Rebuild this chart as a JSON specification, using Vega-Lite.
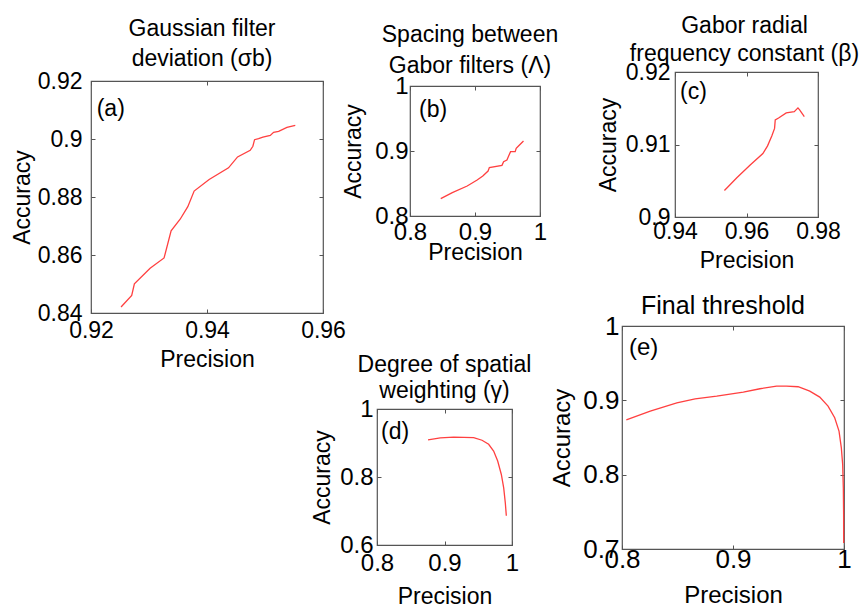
{
  "$schema": "https://vega.github.io/schema/vega-lite/v6.json",
  "background": "white",
  "padding": {"left": 10, "top": 14, "right": 0, "bottom": 0},
  "autosize": {"type": "pad"},
  "config": {
    "font": "Liberation Sans",
    "view": {"stroke": "#555", "strokeWidth": 1.2},
    "axis": {"grid": false, "ticks": true, "tickSize": -4, "tickColor": "#555", "tickWidth": 1, "domain": false, "labelFontSize": 23, "titleFontSize": 23, "titleFontWeight": "normal", "labelColor": "#000", "titleColor": "#000", "labelFlush": false, "labelOverlap": false, "format": "~g", "labelFont": "Liberation Sans", "titleFont": "Liberation Sans"},
    "title": {"anchor": "middle", "frame": "group", "fontSize": 23, "fontWeight": "normal", "color": "#000", "font": "Liberation Sans"},
    "text": {"font": "Liberation Sans", "fontSize": 23, "color": "#000"}
  },
  "datasets": {
    "a": [
      {"precision": 0.92518, "accuracy": 0.84205}, {"precision": 0.92702, "accuracy": 0.84605}, {"precision": 0.92748, "accuracy": 0.85005},
      {"precision": 0.93019, "accuracy": 0.85543}, {"precision": 0.9326, "accuracy": 0.85897}, {"precision": 0.93381, "accuracy": 0.86834},
      {"precision": 0.93537, "accuracy": 0.87234}, {"precision": 0.93669, "accuracy": 0.87668}, {"precision": 0.93778, "accuracy": 0.88205},
      {"precision": 0.94037, "accuracy": 0.88605}, {"precision": 0.94371, "accuracy": 0.89005}, {"precision": 0.94527, "accuracy": 0.89383},
      {"precision": 0.94745, "accuracy": 0.89611}, {"precision": 0.94791, "accuracy": 0.89749}, {"precision": 0.9482, "accuracy": 0.89977},
      {"precision": 0.94889, "accuracy": 0.90011}, {"precision": 0.94964, "accuracy": 0.90068}, {"precision": 0.95091, "accuracy": 0.90125},
      {"precision": 0.95148, "accuracy": 0.90228}, {"precision": 0.95235, "accuracy": 0.90263}, {"precision": 0.95378, "accuracy": 0.904},
      {"precision": 0.95522, "accuracy": 0.90468}
    ],
    "b": [
      {"precision": 0.8473, "accuracy": 0.8267}, {"precision": 0.8651, "accuracy": 0.8359}, {"precision": 0.888, "accuracy": 0.8462},
      {"precision": 0.9033, "accuracy": 0.8554}, {"precision": 0.912, "accuracy": 0.8615}, {"precision": 0.9201, "accuracy": 0.8692},
      {"precision": 0.9221, "accuracy": 0.8744}, {"precision": 0.9415, "accuracy": 0.8779}, {"precision": 0.944, "accuracy": 0.8836},
      {"precision": 0.9491, "accuracy": 0.8862}, {"precision": 0.9547, "accuracy": 0.899}, {"precision": 0.9618, "accuracy": 0.899},
      {"precision": 0.9634, "accuracy": 0.9041}, {"precision": 0.9669, "accuracy": 0.9077}, {"precision": 0.9746, "accuracy": 0.9154}
    ],
    "c": [
      {"precision": 0.95383, "accuracy": 0.90366}, {"precision": 0.95729, "accuracy": 0.90542}, {"precision": 0.96103, "accuracy": 0.90718},
      {"precision": 0.96458, "accuracy": 0.90875}, {"precision": 0.96589, "accuracy": 0.90981}, {"precision": 0.9671, "accuracy": 0.9112},
      {"precision": 0.96785, "accuracy": 0.91222}, {"precision": 0.96804, "accuracy": 0.91338}, {"precision": 0.96897, "accuracy": 0.91366},
      {"precision": 0.97112, "accuracy": 0.91435}, {"precision": 0.97336, "accuracy": 0.91454}, {"precision": 0.97439, "accuracy": 0.91505},
      {"precision": 0.97486, "accuracy": 0.91477}, {"precision": 0.97617, "accuracy": 0.91384}
    ],
    "d": [
      {"precision": 0.8756, "accuracy": 0.9091}, {"precision": 0.8938, "accuracy": 0.9151}, {"precision": 0.9136, "accuracy": 0.917},
      {"precision": 0.9432, "accuracy": 0.916}, {"precision": 0.9556, "accuracy": 0.9081}, {"precision": 0.9654, "accuracy": 0.8963},
      {"precision": 0.9728, "accuracy": 0.8765}, {"precision": 0.9788, "accuracy": 0.8469}, {"precision": 0.9842, "accuracy": 0.8074},
      {"precision": 0.9877, "accuracy": 0.7679}, {"precision": 0.9901, "accuracy": 0.7235}, {"precision": 0.9916, "accuracy": 0.6859}
    ],
    "e": [
      {"precision": 0.80389, "accuracy": 0.8738}, {"precision": 0.82545, "accuracy": 0.88548}, {"precision": 0.8494, "accuracy": 0.89671},
      {"precision": 0.86587, "accuracy": 0.9021}, {"precision": 0.88533, "accuracy": 0.90569}, {"precision": 0.90928, "accuracy": 0.91108},
      {"precision": 0.92425, "accuracy": 0.91557}, {"precision": 0.93922, "accuracy": 0.91916}, {"precision": 0.9482, "accuracy": 0.91916},
      {"precision": 0.95868, "accuracy": 0.91826}, {"precision": 0.96916, "accuracy": 0.91243}, {"precision": 0.97814, "accuracy": 0.90434},
      {"precision": 0.98563, "accuracy": 0.89222}, {"precision": 0.99162, "accuracy": 0.8765}, {"precision": 0.99551, "accuracy": 0.85853},
      {"precision": 0.9976, "accuracy": 0.83608}, {"precision": 0.9988, "accuracy": 0.81362}, {"precision": 0.9994, "accuracy": 0.78219},
      {"precision": 0.99965, "accuracy": 0.74626}, {"precision": 0.9997, "accuracy": 0.70808}
    ],
    "la": [{"precision": 0.92098, "accuracy": 0.91024, "label": "(a)"}],
    "lb": [{"precision": 0.8138, "accuracy": 0.9631, "label": "(b)"}],
    "lc": [{"precision": 0.9414, "accuracy": 0.91724, "label": "(c)"}],
    "ld": [{"precision": 0.8059, "accuracy": 0.9324, "label": "(d)"}],
    "le": [{"precision": 0.8063, "accuracy": 0.9704, "label": "(e)"}]
  },
  "vconcat": [
    {
      "concat": [
        {"data": {"values": [{}]}, "width": 1, "height": 10, "mark": {"type": "point", "opacity": 0}, "encoding": {}, "view": {"stroke": null}},
        {"data": {"values": [{}]}, "width": 1, "height": 1, "mark": {"type": "point", "opacity": 0}, "encoding": {}, "view": {"stroke": null}},
        {"data": {"values": [{}]}, "width": 1, "height": 1, "mark": {"type": "point", "opacity": 0}, "encoding": {}, "view": {"stroke": null}},
        {
          "width": 232, "height": 232,
          "title": {"text": ["Gaussian filter", "deviation (σb)"], "offset": -1, "lineHeight": 30, "dx": -5},
          "resolve": {"axis": {"x": "independent", "y": "independent"}},
          "layer": [
            {"data": {"name": "a"}, "mark": {"type": "line", "color": "#ff4040", "strokeWidth": 1.3},
             "encoding": {
               "x": {"field": "precision", "type": "quantitative", "scale": {"domain": [0.92, 0.96], "nice": false, "zero": false}, "axis": {"orient": "bottom", "values": [0.92, 0.94, 0.96], "title": "Precision", "labelPadding": 10, "titlePadding": 6}},
               "y": {"field": "accuracy", "type": "quantitative", "scale": {"domain": [0.84, 0.92], "nice": false, "zero": false}, "axis": {"orient": "left", "values": [0.84, 0.86, 0.88, 0.9, 0.92], "title": "Accuracy", "labelPadding": 13, "titlePadding": 3}}}},
            {"data": {"name": "la"}, "mark": {"type": "text", "align": "left", "baseline": "middle"},
             "encoding": {
               "x": {"field": "precision", "type": "quantitative", "axis": {"orient": "top", "values": [0.92, 0.94, 0.96], "labels": false, "title": null}},
               "y": {"field": "accuracy", "type": "quantitative", "axis": {"orient": "right", "values": [0.84, 0.86, 0.88, 0.9, 0.92], "labels": false, "title": null}},
               "text": {"field": "label"}}}
          ]
        }
      ],
      "columns": 2, "spacing": 0, "bounds": "flush", "align": "each"
    },
    {
      "concat": [
        {"data": {"values": [{}]}, "width": 1, "height": 15, "mark": {"type": "point", "opacity": 0}, "encoding": {}, "view": {"stroke": null}},
        {"data": {"values": [{}]}, "width": 1, "height": 1, "mark": {"type": "point", "opacity": 0}, "encoding": {}, "view": {"stroke": null}},
        {"data": {"values": [{}]}, "width": 320, "height": 1, "mark": {"type": "point", "opacity": 0}, "encoding": {}, "view": {"stroke": null}},
        {
          "width": 130, "height": 130,
          "title": {"text": ["Spacing between", "Gabor filters (Λ)"], "offset": -4, "lineHeight": 31, "dx": -5},
          "resolve": {"axis": {"x": "independent", "y": "independent"}},
          "layer": [
            {"data": {"name": "b"}, "mark": {"type": "line", "color": "#ff4040", "strokeWidth": 1.3},
             "encoding": {
               "x": {"field": "precision", "type": "quantitative", "scale": {"domain": [0.8, 1], "nice": false, "zero": false}, "axis": {"orient": "bottom", "values": [0.8, 0.9, 1], "title": "Precision", "labelPadding": 8, "titlePadding": -3, "labelFontSize": 24}},
               "y": {"field": "accuracy", "type": "quantitative", "scale": {"domain": [0.8, 1], "nice": false, "zero": false}, "axis": {"orient": "left", "values": [0.8, 0.9, 1], "title": "Accuracy", "labelPadding": 6, "titlePadding": 9, "labelFontSize": 24}}}},
            {"data": {"name": "lb"}, "mark": {"type": "text", "align": "left", "baseline": "middle"},
             "encoding": {
               "x": {"field": "precision", "type": "quantitative", "axis": {"orient": "top", "values": [0.8, 0.9, 1], "labels": false, "title": null}},
               "y": {"field": "accuracy", "type": "quantitative", "axis": {"orient": "right", "values": [0.8, 0.9, 1], "labels": false, "title": null}},
               "text": {"field": "label"}}}
          ]
        }
      ],
      "columns": 2, "spacing": 0, "bounds": "flush", "align": "each"
    },
    {
      "concat": [
        {"data": {"values": [{}]}, "width": 1, "height": 1, "mark": {"type": "point", "opacity": 0}, "encoding": {}, "view": {"stroke": null}},
        {"data": {"values": [{}]}, "width": 1, "height": 1, "mark": {"type": "point", "opacity": 0}, "encoding": {}, "view": {"stroke": null}},
        {"data": {"values": [{}]}, "width": 585, "height": 1, "mark": {"type": "point", "opacity": 0}, "encoding": {}, "view": {"stroke": null}},
        {
          "width": 143, "height": 145,
          "title": {"text": ["Gabor radial", "frequency constant (β)"], "offset": -5, "lineHeight": 28, "dx": -2},
          "resolve": {"axis": {"x": "independent", "y": "independent"}},
          "layer": [
            {"data": {"name": "c"}, "mark": {"type": "line", "color": "#ff4040", "strokeWidth": 1.3},
             "encoding": {
               "x": {"field": "precision", "type": "quantitative", "scale": {"domain": [0.94, 0.98], "nice": false, "zero": false}, "axis": {"orient": "bottom", "values": [0.94, 0.96, 0.98], "title": "Precision", "labelPadding": 7, "titlePadding": 6}},
               "y": {"field": "accuracy", "type": "quantitative", "scale": {"domain": [0.9, 0.92], "nice": false, "zero": false}, "axis": {"orient": "left", "values": [0.9, 0.91, 0.92], "title": "Accuracy", "labelPadding": 9, "titlePadding": 5}}}},
            {"data": {"name": "lc"}, "mark": {"type": "text", "align": "left", "baseline": "middle"},
             "encoding": {
               "x": {"field": "precision", "type": "quantitative", "axis": {"orient": "top", "values": [0.94, 0.96, 0.98], "labels": false, "title": null}},
               "y": {"field": "accuracy", "type": "quantitative", "axis": {"orient": "right", "values": [0.9, 0.91, 0.92], "labels": false, "title": null}},
               "text": {"field": "label"}}}
          ]
        }
      ],
      "columns": 2, "spacing": 0, "bounds": "flush", "align": "each"
    },
    {
      "concat": [
        {"data": {"values": [{}]}, "width": 1, "height": 338, "mark": {"type": "point", "opacity": 0}, "encoding": {}, "view": {"stroke": null}},
        {"data": {"values": [{}]}, "width": 1, "height": 1, "mark": {"type": "point", "opacity": 0}, "encoding": {}, "view": {"stroke": null}},
        {"data": {"values": [{}]}, "width": 287, "height": 1, "mark": {"type": "point", "opacity": 0}, "encoding": {}, "view": {"stroke": null}},
        {
          "width": 135, "height": 136,
          "title": {"text": ["Degree of spatial", "weighting (γ)"], "offset": -6, "lineHeight": 26},
          "resolve": {"axis": {"x": "independent", "y": "independent"}},
          "layer": [
            {"data": {"name": "d"}, "mark": {"type": "line", "color": "#ff4040", "strokeWidth": 1.3},
             "encoding": {
               "x": {"field": "precision", "type": "quantitative", "scale": {"domain": [0.8, 1], "nice": false, "zero": false}, "axis": {"orient": "bottom", "values": [0.8, 0.9, 1], "title": "Precision", "labelPadding": 10, "titlePadding": 10, "labelFontSize": 24}},
               "y": {"field": "accuracy", "type": "quantitative", "scale": {"domain": [0.6, 1], "nice": false, "zero": false}, "axis": {"orient": "left", "values": [0.6, 0.8, 1], "title": "Accuracy", "labelPadding": 8, "titlePadding": 5, "labelFontSize": 24}}}},
            {"data": {"name": "ld"}, "mark": {"type": "text", "align": "left", "baseline": "middle"},
             "encoding": {
               "x": {"field": "precision", "type": "quantitative", "axis": {"orient": "top", "values": [0.8, 0.9, 1], "labels": false, "title": null}},
               "y": {"field": "accuracy", "type": "quantitative", "axis": {"orient": "right", "values": [0.6, 0.8, 1], "labels": false, "title": null}},
               "text": {"field": "label"}}}
          ]
        }
      ],
      "columns": 2, "spacing": 0, "bounds": "flush", "align": "each"
    },
    {
      "concat": [
        {"data": {"values": [{}]}, "width": 1, "height": 255, "mark": {"type": "point", "opacity": 0}, "encoding": {}, "view": {"stroke": null}},
        {"data": {"values": [{}]}, "width": 1, "height": 1, "mark": {"type": "point", "opacity": 0}, "encoding": {}, "view": {"stroke": null}},
        {"data": {"values": [{}]}, "width": 532, "height": 1, "mark": {"type": "point", "opacity": 0}, "encoding": {}, "view": {"stroke": null}},
        {
          "width": 222, "height": 223,
          "title": {"text": "Final threshold", "offset": -6, "fontSize": 25, "dx": -10},
          "resolve": {"axis": {"x": "independent", "y": "independent"}},
          "layer": [
            {"data": {"name": "e"}, "mark": {"type": "line", "color": "#ff4040", "strokeWidth": 1.3},
             "encoding": {
               "x": {"field": "precision", "type": "quantitative", "scale": {"domain": [0.8, 1], "nice": false, "zero": false}, "axis": {"orient": "bottom", "values": [0.8, 0.9, 1], "title": "Precision", "labelPadding": 1, "titlePadding": 11, "labelFontSize": 26, "titleFontSize": 24}},
               "y": {"field": "accuracy", "type": "quantitative", "scale": {"domain": [0.7, 1], "nice": false, "zero": false}, "axis": {"orient": "left", "values": [0.7, 0.8, 0.9, 1], "title": "Accuracy", "labelPadding": 7, "titlePadding": 8, "labelFontSize": 26, "titleFontSize": 24}}}},
            {"data": {"name": "le"}, "mark": {"type": "text", "align": "left", "baseline": "middle", "fontSize": 24},
             "encoding": {
               "x": {"field": "precision", "type": "quantitative", "axis": {"orient": "top", "values": [0.8, 0.9, 1], "labels": false, "title": null}},
               "y": {"field": "accuracy", "type": "quantitative", "axis": {"orient": "right", "values": [0.7, 0.8, 0.9, 1], "labels": false, "title": null}},
               "text": {"field": "label"}}}
          ]
        }
      ],
      "columns": 2, "spacing": 0, "bounds": "flush", "align": "each"
    }
  ],
  "spacing": 0,
  "bounds": "flush"
}
